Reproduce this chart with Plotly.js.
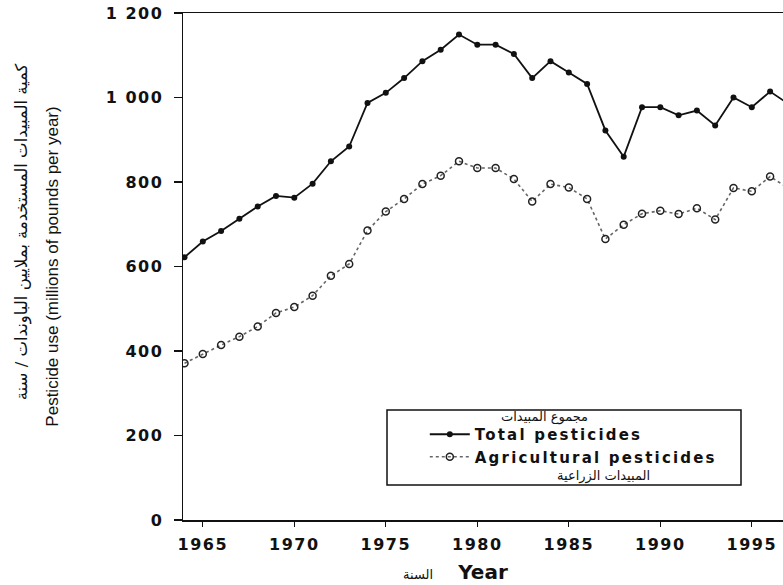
<!DOCTYPE html>
<html>
<head>
<meta charset="utf-8">
<script src="https://cdn.plot.ly/plotly-3.0.1.min.js"></script>
<style>
  html, body { margin: 0; padding: 0; background: #fff; overflow: hidden; }
  #chart { width: 783px; height: 585px; }
  .xtick text, .ytick text { letter-spacing: 1.5px; }
  .legendtext { letter-spacing: 2.2px; }
</style>
</head>
<body>
<div id="chart"></div>
<script>
// ---- data ----
const years = [1964, 1965, 1966, 1967, 1968, 1969, 1970, 1971, 1972, 1973, 1974, 1975,
               1976, 1977, 1978, 1979, 1980, 1981, 1982, 1983, 1984, 1985, 1986, 1987,
               1988, 1989, 1990, 1991, 1992, 1993, 1994, 1995, 1996, 1997];
const totalPesticides = [622, 659, 684, 713, 742, 767, 763, 796, 849, 884, 987, 1011,
                         1046, 1086, 1113, 1149, 1125, 1125, 1103, 1046, 1086, 1059, 1032, 922,
                         860, 977, 977, 958, 969, 934, 1000, 977, 1014, 985];
const agriculturalPesticides = [371, 393, 414, 434, 458, 490, 504, 531, 578, 606, 685, 730,
                                760, 795, 815, 849, 833, 833, 807, 754, 795, 787, 760, 665,
                                699, 725, 732, 724, 738, 711, 786, 778, 813, 785];
const xTickVals = [1965, 1970, 1975, 1980, 1985, 1990, 1995];
const yTickVals = [0, 200, 400, 600, 800, 1000, 1200];
const yTickText = ["0", "200", "400", "600", "800", "1 000", "1 200"];

const nameTotal = "<b>Total pesticides</b>";
const nameAgri = "<b>Agricultural pesticides</b>";
const legendTopAr = "مجموع المبيدات";
const legendBottomAr = "المبيدات الزراعية";
const yTitleEn = "Pesticide use (millions of pounds per year)";
const yTitleAr = "كمية المبيدات المستخدمة بملايين الباوندات / سنة";
const xTitleEn = "<b>Year</b>";
const xTitleAr = "السنة";

const tickFont = { family: "DejaVu Sans, sans-serif", size: 16, color: "#111", weight: "bold" };

const traces = [
  {
    x: years, y: totalPesticides, name: nameTotal,
    type: "scatter", mode: "lines+markers",
    line: { color: "#111", width: 1.8 },
    marker: { symbol: "circle", size: 6, color: "#111" }
  },
  {
    x: years, y: agriculturalPesticides, name: nameAgri,
    type: "scatter", mode: "lines+markers",
    line: { color: "#666", width: 1.6, dash: "dot" },
    marker: { symbol: "circle-open", size: 7, color: "#222", line: { width: 1.5, color: "#222" } }
  }
];

const layout = {
  width: 783, height: 585,
  margin: { l: 183, r: 0, t: 13, b: 65, pad: 0 },
  paper_bgcolor: "#fff", plot_bgcolor: "#fff",
  showlegend: true,
  xaxis: {
    range: [1963.918, 1996.705],
    showgrid: false, zeroline: false,
    showline: true, linecolor: "#111", linewidth: 1.5, mirror: true,
    ticks: "outside", ticklen: 5, tickwidth: 1.3, tickcolor: "#111",
    tickvals: xTickVals, ticktext: xTickVals.map(String),
    tickfont: tickFont, ticklabelstandoff: 4,
    title: { text: xTitleEn, font: { family: "DejaVu Sans, sans-serif", size: 20, color: "#111" }, standoff: 12 }
  },
  yaxis: {
    range: [0, 1200],
    showgrid: false, zeroline: false,
    showline: true, linecolor: "#111", linewidth: 1.5,
    ticks: "outside", ticklen: 8, tickwidth: 1.3, tickcolor: "#111",
    tickvals: yTickVals, ticktext: yTickText,
    tickfont: tickFont, ticklabelstandoff: 7,
    title: { text: yTitleEn, font: { family: "Liberation Sans, Arial, sans-serif", size: 17, color: "#111" }, standoff: 42 }
  },
  legend: {
    x: 0.403, y: 0.2012, xanchor: "left", yanchor: "top",
    bgcolor: "rgba(0,0,0,0)", borderwidth: 0,
    font: { family: "DejaVu Sans, sans-serif", size: 15, color: "#111" },
    tracegroupgap: 0, itemwidth: 40
  },
  shapes: [
    { type: "rect", xref: "paper", yref: "paper", x0: 0.34, x1: 0.93, y0: 0.069, y1: 0.217,
      line: { color: "#111", width: 1.5 }, fillcolor: "rgba(0,0,0,0)", layer: "above" }
  ],
  annotations: [
    {
      text: yTitleAr, xref: "paper", yref: "paper", x: -0.268, y: 0.568,
      xanchor: "center", yanchor: "middle", textangle: -90, showarrow: false,
      font: { family: "DejaVu Sans, sans-serif", size: 16.5, color: "#111" }
    },
    {
      text: xTitleAr, xref: "paper", yref: "paper", x: 0.392, y: -0.108,
      xanchor: "center", yanchor: "middle", showarrow: false,
      font: { family: "DejaVu Sans, sans-serif", size: 13, color: "#111" }
    },
    {
      text: legendTopAr, xref: "paper", yref: "paper", x: 0.602, y: 0.203,
      xanchor: "center", yanchor: "middle", showarrow: false,
      font: { family: "DejaVu Sans, sans-serif", size: 13, color: "#111" }
    },
    {
      text: legendBottomAr, xref: "paper", yref: "paper", x: 0.70, y: 0.0868,
      xanchor: "center", yanchor: "middle", showarrow: false,
      font: { family: "DejaVu Sans, sans-serif", size: 13, color: "#111" }
    }
  ]
};

Plotly.newPlot("chart", traces, layout, { displayModeBar: false, staticPlot: true });
</script>
</body>
</html>
